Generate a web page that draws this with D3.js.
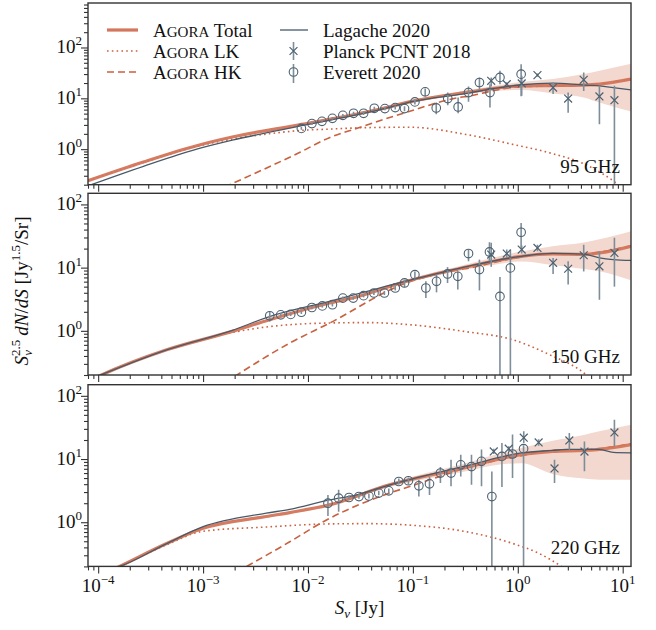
<!DOCTYPE html>
<html>
<head>
<meta charset="utf-8">
<script src="https://cdn.jsdelivr.net/npm/d3@7"></script>
<style>
    body { margin: 0; background: #fff; }
    text, tspan { font-family: "Liberation Serif", "Times New Roman", Times, "DejaVu Serif", serif; }
</style>
</head>
<body>
<svg id="chart" width="656" height="630"></svg>
<script>
// ---- data: [S (Jy), S^2.5 dN/dS] ----
const freqLabels = ["95 GHz", "150 GHz", "220 GHz"];
const xTicks = [1e-4, 1e-3, 1e-2, 1e-1, 1, 10];

// 95 GHz
const total95S  = [8e-5, 2.7e-4, 8.7e-4, 1.9e-3, 8.7e-3, 0.048, 0.1, 0.35, 0.58, 1.08, 2.15, 4.25, 6, 12];
const total95   = [0.24, 0.56, 1.17, 1.73, 3.08, 6.1, 8.8, 13.4, 15.6, 17.6, 17.8, 18.2, 19, 23.8];
const band95Lo  = [0.23, 0.54, 1.12, 1.66, 2.95, 5.8, 8.3, 12.3, 14, 14.5, 12.5, 10.4, 8.3, 5.5];
const band95Hi  = [0.25, 0.58, 1.22, 1.8, 3.2, 6.4, 9.3, 14.5, 17.5, 21, 24, 30, 35, 48];
const lk95 = [[8e-5, 0.24], [2.7e-4, 0.55], [8.7e-4, 1.13], [1.9e-3, 1.58], [4e-3, 1.98], [8.7e-3, 2.34],
    [0.016, 2.48], [0.036, 2.65], [0.093, 2.7], [0.32, 1.95], [0.9, 1.24], [2.0, 0.85], [4.8, 0.46],
    [8.3, 0.23], [10, 0.17]];
const hk95 = [[1.6e-3, 0.18], [8.4e-3, 0.87], [0.016, 1.68], [0.029, 2.56], [0.084, 5.2], [0.28, 10.4],
    [0.35, 11.1], [0.57, 14], [1.07, 17], [2.15, 17.4], [4.25, 18.2], [6, 19.2], [12, 24.2]];
const lagache95 = [[8e-5, 0.19], [2.7e-4, 0.46], [8.7e-4, 1.0], [1.9e-3, 1.5], [8.7e-3, 2.9], [0.048, 5.9],
    [0.1, 8.7], [0.35, 12.8], [0.58, 15.5], [1.08, 18.5], [2.15, 19.9], [4.25, 18.2], [6, 17.6],
    [8.1, 16.3], [12, 14.6]];
// [S, value, low, high]
const everett95 = [[0.00865, 2.56, 2.4, 2.72], [0.0109, 3.18, 3.0, 3.36], [0.0136, 3.53, 3.33, 3.73],
    [0.0171, 4.04, 3.8, 4.3], [0.0215, 4.63, 4.35, 4.92], [0.0272, 5.08, 4.75, 5.42], [0.0339, 5.08, 4.72, 5.45],
    [0.0429, 6.37, 5.9, 6.85], [0.0541, 6.28, 5.8, 6.8], [0.0679, 6.58, 6.0, 7.2], [0.0832, 6.28, 5.6, 7.0],
    [0.1045, 8.49, 7.6, 9.5], [0.131, 13.4, 11.1, 15.6], [0.167, 6.46, 4.85, 8.3], [0.215, 9.9, 7.3, 13.0],
    [0.27, 6.76, 5.1, 10.4], [0.339, 13.0, 8.6, 17.1], [0.431, 20.5, 15.1, 25.8], [0.543, 13.0, 6.6, 19.0],
    [0.676, 25.8, 19.0, 34.8], [1.076, 29.9, 11, 47]];
const planck95 = [[0.558, 22.1, 17.1, 25.8], [0.785, 19.0, 17.5, 20.6], [1.09, 19.6, 11.2, 27.8],
    [1.54, 28.6, 26.5, 30.8], [2.17, 16.3, 12.1, 20.5], [3.02, 9.9, 5.2, 13], [4.25, 23.1, 14, 32.3],
    [6.0, 10.9, 3.1, 17.6], [8.34, 9.2, 0.05, 17.6]];

// 150 GHz
const total150S = [8e-5, 1e-4, 4.5e-4, 1.9e-3, 4.3e-3, 6.7e-3, 0.016, 0.029, 0.086, 0.35, 0.58, 1.08, 2.15, 4.25, 6, 12];
const total150  = [0.16, 0.19, 0.5, 0.98, 1.5, 1.86, 2.75, 3.43, 6.06, 10.5, 12.6, 15.1, 16.5, 16.2, 17.1, 21.8];
const band150Lo = [0.15, 0.18, 0.48, 0.94, 1.44, 1.79, 2.64, 3.3, 5.8, 9.6, 11, 12.5, 11, 9.5, 8.8, 6.3];
const band150Hi = [0.17, 0.2, 0.52, 1.02, 1.56, 1.93, 2.86, 3.56, 6.4, 11.6, 14.3, 18, 21.8, 25, 28, 37.7];
const lk150 = [[8e-5, 0.16], [1e-4, 0.19], [4.5e-4, 0.5], [1.9e-3, 0.94], [4e-3, 1.15], [8.4e-3, 1.28],
    [0.016, 1.33], [0.036, 1.35], [0.093, 1.25], [0.32, 0.97], [0.9, 0.72], [2.0, 0.42], [4.5, 0.2], [5, 0.17]];
const hk150 = [[2e-3, 0.19], [6.7e-3, 0.64], [0.016, 1.32], [0.086, 5.7], [0.28, 9.3], [0.35, 9.9],
    [0.57, 11.9], [1.07, 14.8], [2.15, 16.6], [4.25, 16.6], [6, 17.6], [12, 22.2]];
const lagache150 = [[9e-5, 0.18], [4.5e-4, 0.5], [1.9e-3, 1.02], [4.3e-3, 1.68], [0.016, 2.92], [0.086, 6.1],
    [0.35, 10.7], [1.08, 15.1], [2.15, 16.8], [4.25, 16.3], [6, 14.3], [8.1, 13.4], [12, 13.0]];
const everett150 = [[0.00432, 1.73, 1.4, 2.02], [0.0055, 1.79, 1.68, 1.9], [0.00684, 1.82, 1.71, 1.93],
    [0.00865, 1.97, 1.85, 2.09], [0.0109, 2.34, 2.2, 2.48], [0.0137, 2.48, 2.33, 2.63], [0.0171, 2.59, 2.43, 2.75],
    [0.0215, 3.3, 3.1, 3.5], [0.027, 3.3, 3.1, 3.5], [0.0339, 3.6, 3.38, 3.82], [0.0425, 3.97, 3.7, 4.25],
    [0.0535, 3.97, 3.68, 4.28], [0.0679, 4.76, 4.35, 5.2], [0.0832, 5.72, 4.9, 6.45], [0.1045, 7.74, 6.45, 8.7],
    [0.133, 4.76, 3.3, 6.06], [0.168, 6.06, 4.06, 7.8], [0.214, 7.94, 5.7, 10.2], [0.268, 7.28, 4.5, 8.7],
    [0.339, 16.7, 12.6, 19.3], [0.431, 9.3, 4.36, 13.4], [0.537, 17.7, 12.6, 25.3], [0.676, 3.5, 0.05, 7.1],
    [0.85, 9.9, 0.05, 19.3], [1.076, 36.3, 20.5, 51]];
const planck150 = [[0.558, 16.1, 10.3, 24.7], [0.785, 16.7, 14.2, 19.3], [1.09, 19.3, 16.7, 22.3],
    [1.54, 20.5, 18.1, 23], [2.17, 11.9, 7.9, 14.2], [3.02, 9.6, 5.4, 12.6], [4.25, 15.7, 8.7, 23],
    [6.0, 10.5, 3.1, 18.1], [8.34, 17.1, 5.0, 29.6]];

// 220 GHz
const total220S = [1.2e-4, 1.6e-4, 4.5e-4, 1e-3, 4e-3, 6.7e-3, 0.016, 0.06, 0.093, 0.35, 0.58, 1.08, 2.15, 4.25, 6, 12];
const total220  = [0.16, 0.2, 0.46, 0.8, 1.23, 1.42, 1.88, 3.9, 4.7, 7.6, 9.5, 11.7, 13.2, 13.7, 14.2, 16.9];
const band220Lo = [0.15, 0.19, 0.44, 0.77, 1.18, 1.36, 1.8, 3.65, 4.3, 6.6, 7.9, 8.6, 5.8, 4.9, 4.7, 4.7];
const band220Hi = [0.17, 0.21, 0.48, 0.83, 1.28, 1.48, 1.96, 4.15, 5.1, 9.0, 11.5, 15, 19.5, 24, 27.4, 35];
const lk220 = [[1.2e-4, 0.16], [1.6e-4, 0.2], [4.5e-4, 0.44], [1e-3, 0.72], [4e-3, 0.84], [0.016, 0.94],
    [0.036, 0.95], [0.093, 0.9], [0.32, 0.71], [0.9, 0.46], [1.6, 0.32], [2.6, 0.2], [3, 0.17]];
const hk220 = [[2.6e-3, 0.2], [6.7e-3, 0.49], [0.014, 1.02], [0.06, 2.89], [0.093, 3.67], [0.35, 7.47],
    [0.58, 9.2], [1.08, 11.3], [2.15, 13.7], [4.25, 14], [6, 14.6], [12, 17.5]];
const lagache220 = [[1.3e-4, 0.18], [1.6e-4, 0.2], [4.5e-4, 0.46], [1e-3, 0.85], [4e-3, 1.39], [6.7e-3, 1.6],
    [0.016, 2.25], [0.029, 2.71], [0.06, 3.9], [0.35, 8.1], [1.08, 12.5], [2.15, 13.7], [2.9, 14.2],
    [6, 14.2], [8.1, 12.7], [12, 12.5]];
const everett220 = [[0.0155, 2.0, 1.26, 2.7], [0.0196, 2.4, 1.47, 3.26], [0.0246, 2.46, 2.28, 2.66],
    [0.0306, 2.55, 2.36, 2.76], [0.0381, 2.59, 2.38, 2.82], [0.0473, 2.89, 2.66, 3.14], [0.0589, 3.14, 2.88, 3.42],
    [0.0734, 4.41, 3.95, 4.9], [0.0907, 4.53, 3.95, 5.1], [0.114, 3.77, 2.55, 4.7], [0.144, 4.05, 2.7, 5.2],
    [0.183, 6.0, 4.16, 7.5], [0.231, 6.0, 3.7, 9.7], [0.286, 8.1, 5.3, 11.7], [0.362, 7.6, 3.9, 11.7],
    [0.451, 9.2, 3.7, 14.1], [0.566, 2.55, 0.05, 6.35], [0.706, 11.0, 3.6, 18], [0.891, 12.0, 5.0, 24.4],
    [1.135, 14.6, 0.05, 16.5]];
const planck220 = [[0.59, 13.2, 12, 14.5], [0.82, 14.6, 13.3, 16], [1.14, 21.8, 17.9, 27.4],
    [1.58, 18.3, 16.2, 20.6], [2.24, 7.1, 4.16, 9.7], [3.1, 19.7, 14, 25.8], [4.32, 13.1, 6.4, 19],
    [8.34, 26.4, 15.9, 42]];

// ---- layout ----
const width = 656, height = 630;
const left = 88, right = 631;
const panelTops = [3, 193.3, 384.7];
const panelH = 181.7;
const yMaxes = [750, 150, 150];
const yMin = 0.2;
const serif = "Liberation Serif, Times New Roman, Times, DejaVu Serif, serif";

const colors = {
    total: "#d3765b",
    agora: "#c9603f",
    band: "#f2d8cf",
    lagache: "#485a68",
    marker: "#4d6170",
    errbar: "#7d8e99",
    frame: "#333333"
};
const fontSize = 19, supSize = 13;

const panels = [
    {S: total95S, total: total95, lo: band95Lo, hi: band95Hi, lk: lk95, hk: hk95, lag: lagache95, ev: everett95, pl: planck95},
    {S: total150S, total: total150, lo: band150Lo, hi: band150Hi, lk: lk150, hk: hk150, lag: lagache150, ev: everett150, pl: planck150},
    {S: total220S, total: total220, lo: band220Lo, hi: band220Hi, lk: lk220, hk: hk220, lag: lagache220, ev: everett220, pl: planck220}
];

const svg = d3.select("#chart").attr("font-family", serif);
svg.append("rect").attr("width", width).attr("height", height).attr("fill", "#fff");

const x = d3.scaleLog().domain([8e-5, 12]).range([left, right]);

function minorTicks(lo, hi) {
    const out = [];
    for (let e = Math.floor(Math.log10(lo)); e <= Math.ceil(Math.log10(hi)); e++) {
        for (let m = 2; m <= 9; m++) {
            const v = m * Math.pow(10, e);
            if (v >= lo && v <= hi) out.push(v);
        }
    }
    return out;
}

function powerLabel(sel, exp) {
    sel.append("tspan").text("10");
    sel.append("tspan")
        .attr("font-size", supSize)
        .attr("dy", -8)
        .text(exp < 0 ? "\u2212" + (-exp) : exp);
}

function addText(parent, xPos, yPos) {
    return parent.append("text")
        .attr("x", xPos).attr("y", yPos)
        .attr("font-family", serif)
        .attr("font-size", fontSize)
        .attr("fill", "#111");
}

panels.forEach(function (p, i) {
    const top = panelTops[i];
    const y = d3.scaleLog().domain([yMin, yMaxes[i]]).range([top + panelH, top]);
    const g = svg.append("g");

    const clipId = "clip" + i;
    svg.append("clipPath").attr("id", clipId)
        .append("rect").attr("x", left).attr("y", top).attr("width", right - left).attr("height", panelH);
    const plot = g.append("g").attr("clip-path", `url(#${clipId})`);

    // uncertainty band
    const bandData = p.S.map((s, k) => [s, p.lo[k], p.hi[k]]);
    plot.append("path")
        .datum(bandData)
        .attr("fill", colors.band)
        .attr("d", d3.area()
            .x(d => x(d[0]))
            .y0(d => y(d[1]))
            .y1(d => y(d[2]))
            .curve(d3.curveMonotoneX));

    const line = d3.line().x(d => x(d[0])).y(d => y(d[1])).curve(d3.curveMonotoneX);

    plot.append("path").datum(p.lk)
        .attr("fill", "none").attr("stroke", colors.agora).attr("stroke-width", 1.6)
        .attr("stroke-dasharray", "1.6 3.2").attr("d", line);
    plot.append("path").datum(p.hk)
        .attr("fill", "none").attr("stroke", colors.agora).attr("stroke-width", 1.6)
        .attr("stroke-dasharray", "7 4").attr("d", line);
    plot.append("path").datum(p.S.map((s, k) => [s, p.total[k]]))
        .attr("fill", "none").attr("stroke", colors.total).attr("stroke-width", 3.2)
        .attr("stroke-opacity", 0.95).attr("d", line);
    plot.append("path").datum(p.lag)
        .attr("fill", "none").attr("stroke", colors.lagache).attr("stroke-width", 1.3).attr("d", line);

    // error bars
    plot.selectAll(".eb").data(p.ev.concat(p.pl)).enter().append("line")
        .attr("x1", d => x(d[0])).attr("x2", d => x(d[0]))
        .attr("y1", d => y(d[2])).attr("y2", d => y(d[3]))
        .attr("stroke", colors.errbar).attr("stroke-width", 1.6);

    // Everett circles
    plot.selectAll(".ev").data(p.ev).enter().append("circle")
        .attr("cx", d => x(d[0])).attr("cy", d => y(d[1])).attr("r", 4.3)
        .attr("fill", "none").attr("stroke", colors.marker).attr("stroke-width", 1.1);

    // Planck crosses
    const cross = d3.symbol().type(d3.symbolX).size(42);
    plot.selectAll(".pl").data(p.pl).enter().append("path")
        .attr("transform", d => `translate(${x(d[0])},${y(d[1])})`)
        .attr("d", cross)
        .attr("fill", "none").attr("stroke", colors.marker).attr("stroke-width", 1.2);

    // axes
    const xMaj = g.append("g").attr("transform", `translate(0,${top + panelH})`)
        .call(d3.axisBottom(x).tickValues(xTicks).tickSize(7).tickFormat(() => ""));
    const xMin = g.append("g").attr("transform", `translate(0,${top + panelH})`)
        .call(d3.axisBottom(x).tickValues(minorTicks(8e-5, 12)).tickSize(4).tickFormat(() => ""));
    const yTicks = [1, 10, 100];
    const yMaj = g.append("g").attr("transform", `translate(${left},0)`)
        .call(d3.axisLeft(y).tickValues(yTicks).tickSize(7).tickFormat(() => ""));
    const yMinr = g.append("g").attr("transform", `translate(${left},0)`)
        .call(d3.axisLeft(y).tickValues(minorTicks(yMin, yMaxes[i])).tickSize(4).tickFormat(() => ""));
    [xMaj, xMin, yMaj, yMinr].forEach(a => {
        a.select(".domain").remove();
        a.selectAll("line").attr("stroke", colors.frame).attr("stroke-width", 1.1);
    });

    yTicks.forEach(function (v) {
        const t = addText(g, 82, y(v) + 6).attr("text-anchor", "end");
        powerLabel(t, Math.round(Math.log10(v)));
    });

    if (i === 2) {
        xTicks.forEach(function (v) {
            const t = addText(g, x(v), top + panelH + 26).attr("text-anchor", "middle");
            powerLabel(t, Math.round(Math.log10(v)));
        });
    }

    // frame
    g.append("rect")
        .attr("x", left).attr("y", top).attr("width", right - left).attr("height", panelH)
        .attr("fill", "none").attr("stroke", colors.frame).attr("stroke-width", 1.4);

    // frequency label
    addText(g, 620, top + panelH - 12).attr("text-anchor", "end").text(freqLabels[i]);
});

// axis labels
const xl = addText(svg, 359.5, 614).attr("text-anchor", "middle");
xl.append("tspan").attr("font-style", "italic").text("S");
xl.append("tspan").attr("font-style", "italic").attr("font-size", supSize).attr("dy", 4).text("\u03bd");
xl.append("tspan").attr("dy", -4).text(" [Jy]");

const yl = addText(svg, 0, 0)
    .attr("transform", "translate(28,291) rotate(-90)")
    .attr("text-anchor", "middle");
yl.append("tspan").attr("font-style", "italic").text("S");
yl.append("tspan").attr("font-size", supSize).attr("dy", -8).text("2.5");
yl.append("tspan").attr("font-style", "italic").attr("font-size", supSize).attr("dx", -16).attr("dy", 12).text("\u03bd");
yl.append("tspan").attr("dx", 9.5).attr("dy", -4).text(" ");
yl.append("tspan").attr("font-style", "italic").text("dN");
yl.append("tspan").text("/");
yl.append("tspan").attr("font-style", "italic").text("dS");
yl.append("tspan").text(" [Jy");
yl.append("tspan").attr("font-size", supSize).attr("dy", -8).text("1.5");
yl.append("tspan").attr("dy", 8).text("/Sr]");

// legend
const legend = svg.append("g");
const rows = [30, 51, 72];
function smallCaps(t, rest) {
    t.append("tspan").text("A");
    t.append("tspan").attr("font-size", 15).text("GORA");
    t.append("tspan").text(" " + rest);
}
legend.append("line").attr("x1", 107).attr("x2", 138).attr("y1", rows[0]).attr("y2", rows[0])
    .attr("stroke", colors.total).attr("stroke-width", 3.2);
legend.append("line").attr("x1", 107).attr("x2", 138).attr("y1", rows[1]).attr("y2", rows[1])
    .attr("stroke", colors.agora).attr("stroke-width", 1.6).attr("stroke-dasharray", "1.6 3.2");
legend.append("line").attr("x1", 107).attr("x2", 138).attr("y1", rows[2]).attr("y2", rows[2])
    .attr("stroke", colors.agora).attr("stroke-width", 1.6).attr("stroke-dasharray", "7 4");
["Total", "LK", "HK"].forEach(function (name, k) {
    smallCaps(addText(legend, 153, rows[k] + 6.5), name);
});
legend.append("line").attr("x1", 280).attr("x2", 308).attr("y1", rows[0]).attr("y2", rows[0])
    .attr("stroke", colors.lagache).attr("stroke-width", 1.3);
legend.append("line").attr("x1", 293.5).attr("x2", 293.5).attr("y1", rows[1] - 9).attr("y2", rows[1] + 9)
    .attr("stroke", colors.errbar).attr("stroke-width", 1.6);
legend.append("path").attr("transform", `translate(293.5,${rows[1]})`)
    .attr("d", d3.symbol().type(d3.symbolX).size(42))
    .attr("fill", "none").attr("stroke", colors.marker).attr("stroke-width", 1.2);
legend.append("line").attr("x1", 293.5).attr("x2", 293.5).attr("y1", rows[2] - 8).attr("y2", rows[2] + 11)
    .attr("stroke", colors.errbar).attr("stroke-width", 1.6);
legend.append("circle").attr("cx", 293.5).attr("cy", rows[2]).attr("r", 4.3)
    .attr("fill", "none").attr("stroke", colors.marker).attr("stroke-width", 1.1);
["Lagache 2020", "Planck PCNT 2018", "Everett 2020"].forEach(function (name, k) {
    addText(legend, 323, rows[k] + 6.5).text(name);
});
</script>
</body>
</html>
